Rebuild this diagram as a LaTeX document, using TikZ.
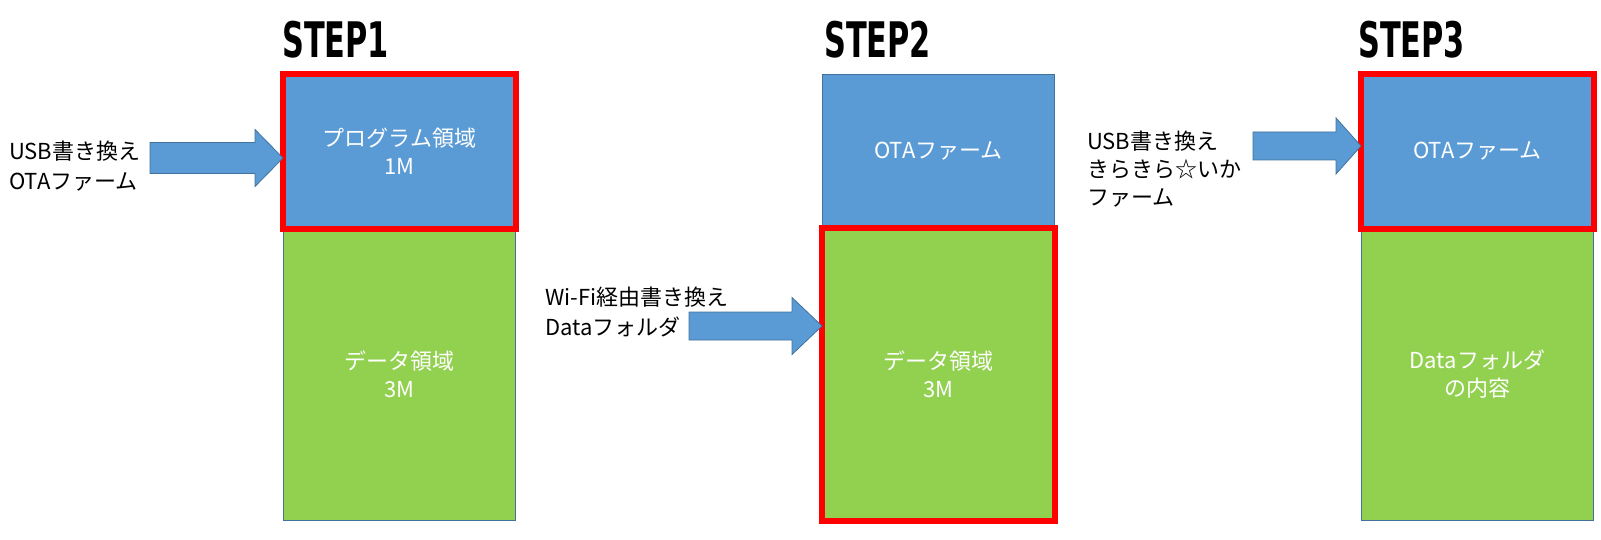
\documentclass[tikz,border=0pt]{standalone}
\usepackage{fontspec}
\setmainfont{Noto Sans CJK JP}
\newfontfamily\stepfont[FakeStretch=0.62]{DejaVu Sans Bold}
\usetikzlibrary{calc}
\definecolor{boxblue}{HTML}{5B9BD5}
\definecolor{boxgreen}{HTML}{92D050}
\definecolor{edgeblue}{HTML}{41719C}
\definecolor{framered}{HTML}{FF0000}
\newcommand\blockarr[6]{% tip, total length, head length, head half, shaft half, name
  \draw[barrow] (#1) -- ++(-#3,-#4) -- ++(0,#4-#5) -- ++(-#2+#3,0) -- ++(0,2*#5) -- ++(#2-#3,0) -- ++(0,#4-#5) -- cycle;}
\begin{document}
\begin{tikzpicture}[x=1pt,y=-1pt,
  mem/.style={draw=edgeblue, line width=0.8pt, minimum width=232pt, inner sep=0pt, anchor=north west, text=white, font=\fontsize{22}{28}\selectfont, align=center},
  topbox/.style={mem, fill=boxblue, minimum height=154pt},
  botbox/.style={mem, fill=boxgreen, minimum height=292pt},
  redframe/.style={draw=framered, line width=6pt},
  note/.style={anchor=west, align=left, inner sep=0pt, font=\fontsize{22}{29.5}\selectfont},
  steplabel/.style={anchor=base west, inner sep=0pt, font=\stepfont\fontsize{49}{49}\selectfont},
  barrow/.style={fill=boxblue, draw=edgeblue, line width=0.8pt}]
\useasboundingbox (0,0) rectangle (1601,540);

% STEP 1
\node[steplabel] (s1) at (282,58) {STEP1};
\node[botbox] (d1) at (283,228) {データ領域\\3M};
\node[topbox] (p1) at (283,74) {プログラム領域\\1M};
\draw[redframe] (p1.north west) rectangle (p1.south east);

% STEP 2
\node[steplabel] (s2) at (824,58) {STEP2};
\node[topbox] (p2) at (822,74) {OTAファーム};
\node[botbox] (d2) at (822,228) {データ領域\\3M};
\draw[redframe] (d2.north west) rectangle (d2.south east);

% STEP 3
\node[steplabel] (s3) at (1358,58) {STEP3};
\node[botbox] (d3) at (1361,228) {Dataフォルダ\\の内容};
\node[topbox] (p3) at (1361,74) {OTAファーム};
\draw[redframe] (p3.north west) rectangle (p3.south east);

% notes
\node[note] (n1) at (9,166) {USB書き換え\\OTAファーム};
\node[note] (n2) at (545,312) {Wi-Fi経由書き換え\\Dataフォルダ};
\node[note, font=\fontsize{22}{28}\selectfont] (n3) at (1087,169) {USB書き換え\\きらきら☆いか\\ファーム};

% block arrows
\coordinate (t1) at (p1.west |- 0,158);
\coordinate (t2) at (d2.west |- 0,326);
\coordinate (t3) at (p3.west |- 0,146);
\blockarr{t1}{133}{28}{28.5}{15.5}{a1}
\blockarr{t2}{133}{30}{28.5}{14}{a2}
\blockarr{t3}{108}{25}{28}{14}{a3}
\end{tikzpicture}
\end{document}
